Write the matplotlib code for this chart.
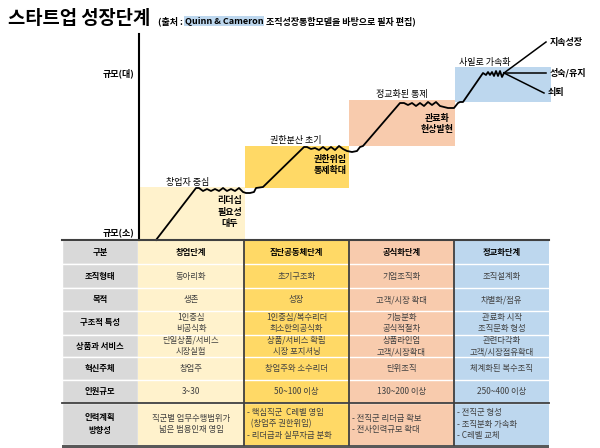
import matplotlib.pyplot as plt
import matplotlib.patches as mpatches

plt.rcParams['font.family'] = ['Noto Sans CJK KR', 'DejaVu Sans']

# ── data ────────────────────────────────────────────────────────────────
stage_colors = ["#FFF2CC", "#FFD966", "#F8CBAD", "#BDD7EE"]
# stage boxes in pixel space: (x0, x1, y_top, y_bottom)
stage_boxes = [(139, 245, 187, 240), (245, 349, 146, 188),
               (349, 455, 100, 146), (455, 551, 67, 102)]

# growth curve path (x, y) in pixels
curve_x = [156, 196, 199, 203, 207, 211, 215, 219, 223, 227, 231, 235, 239, 243, 246, 250, 254, 256, 263,
           304, 307, 311, 315, 319, 323, 327, 331, 335, 339, 343, 347, 352, 357, 360, 363,
           400, 404, 408, 412, 416, 420, 424, 428, 432, 436, 440, 444, 448, 454, 458, 460, 463,
           483, 486, 488, 490, 492, 494, 496, 498, 500, 502, 504]
curve_y = [240, 188, 188, 191, 189, 191, 189, 191, 188, 191, 189, 191, 188, 192, 193, 193, 192, 188, 187,
           147, 147, 149, 148, 150, 147, 150, 147, 150, 146, 149, 151, 152, 151, 147, 146,
           103, 103, 105, 103, 106, 103, 106, 102, 105, 102, 106, 107, 108, 108, 103, 102, 102,
           73, 75, 72, 75, 72, 76, 71, 76, 71, 77, 73]
branch_ends = [(546, 42), (546, 73), (544, 93)]
branch_labels = ["지속성장", "성숙/유지", "쇠퇴"]

stage_labels = [(188, 182, "창업자 중심"), (296, 140, "권한분산 초기"),
                (402, 95, "정교화된 통제"), (485, 62, "사일로 가속화")]
crisis_labels = [(230, 212, "리더십\n필요성\n대두"), (330, 165, "권한위임\n통제확대"),
                 (437, 124, "관료화\n현상발현")]

col_x = [62, 138, 244, 349, 454, 549]
row_y = [240, 264, 288, 311, 335, 357, 380, 403, 445]
row_heads = ["구분", "조직형태", "목적", "구조적 특성", "상품과 서비스", "혁신주체", "인원규모", "인력계획\n방향성"]
table = [
    ["창업단계", "집단공동체단계", "공식화단계", "정교화단계"],
    ["동아리화", "초기구조화", "기업조직화", "조직설계화"],
    ["생존", "성장", "고객/시장 확대", "차별화/점유"],
    ["1인중심\n비공식화", "1인중심/복수리더\n최소한의공식화", "기능분화\n공식적절차", "관료화 시작\n조직문화 형성"],
    ["단일상품/서비스\n시장실험", "상품/서비스 확립\n시장 포지셔닝", "상품라인업\n고객/시장확대", "관련다각화\n고객/시장점유확대"],
    ["창업주", "창업주와 소수리더", "단위조직", "체계화된 복수조직"],
    ["3~30", "50~100 이상", "130~200 이상", "250~400 이상"],
    ["직군별 업무수행범위가\n넓은 범용인재 영입",
     "- 핵심직군  C레벨 영입\n  (창업주 권한위임)\n- 리더급과 실무자급 분화",
     "- 전직군 리더급 확보\n- 전사인력규모 확대",
     "- 전직군 형성\n- 조직분화 가속화\n- C레벨 교체"],
]

# ── figure ──────────────────────────────────────────────────────────────
fig = plt.figure(figsize=(6, 4.48), dpi=100)
ax = fig.add_axes([0, 0, 1, 1])
ax.set_xlim(0, 600)
ax.set_ylim(448, 0)
ax.axis("off")

ax.text(8, 19, "스타트업 성장단계", fontsize=13.5, fontweight="heavy", va="center", ha="left")

# subtitle pieces laid out one after another
renderer = fig.canvas.get_renderer()
x = 158
pieces = [("(출처 : ", None), ("Quinn & Cameron", "#BDD7EE"), (" 조직성장통합모델을 바탕으로 필자 편집)", None)]
for s, bg in pieces:
    kw = dict(bbox=dict(boxstyle="square,pad=0.1", fc=bg, ec="none")) if bg else {}
    t = ax.text(x, 21, s, fontsize=6.5, fontweight="bold", va="center", ha="left", **kw)
    bb = t.get_window_extent(renderer)
    x += bb.width * 600 / fig.bbox.width

for (x0, x1, yt, yb), c in zip(stage_boxes, stage_colors):
    ax.add_patch(mpatches.Rectangle((x0, yt), x1 - x0, yb - yt, fc=c, ec="none"))

ax.plot([139, 139], [34, 240], color="black", lw=1.5)
ax.text(134, 73, "규모(대)", fontsize=6.5, fontweight="bold", ha="right", va="center")
ax.text(134, 234, "규모(소)", fontsize=6.5, fontweight="bold", ha="right", va="center")

ax.plot(curve_x, curve_y, color="black", lw=1.3, solid_joinstyle="round")
for (ex, ey), lab in zip(branch_ends, branch_labels):
    ax.plot([curve_x[-1], ex], [curve_y[-1], ey], color="black", lw=1.1)
    ax.text(ex + 4, ey, lab, fontsize=6.5, fontweight="bold", ha="left", va="center")

for x, y, s in stage_labels:
    ax.text(x, y, s, fontsize=6.5, ha="center", va="center")
for x, y, s in crisis_labels:
    ax.text(x, y, s, fontsize=6.5, fontweight="bold", ha="center", va="center", linespacing=1.3)

# table
for i in range(len(row_heads)):
    y0, y1 = row_y[i], row_y[i + 1]
    ax.add_patch(mpatches.Rectangle((col_x[0], y0), col_x[1] - col_x[0], y1 - y0,
                                    fc="#D9D9D9", ec="white", lw=1))
    ax.text((col_x[0] + col_x[1]) / 2, (y0 + y1) / 2, row_heads[i], fontsize=6,
            fontweight="bold", ha="center", va="center", linespacing=1.5)
    for j in range(4):
        xa, xb = col_x[j + 1], col_x[j + 2]
        ax.add_patch(mpatches.Rectangle((xa, y0), xb - xa, y1 - y0,
                                        fc=stage_colors[j], ec="none"))
        txt = table[i][j]
        bold = i == 0
        color = "black" if bold else "#404040"
        if i == 7 and j > 0:
            ax.text(xa + 3, (y0 + y1) / 2, txt, fontsize=6, ha="left", va="center",
                    color=color, linespacing=1.4)
        else:
            ax.text((xa + xb) / 2, (y0 + y1) / 2, txt, fontsize=6,
                    fontweight="bold" if bold else "normal", ha="center", va="center",
                    color=color, linespacing=1.3)
    if i > 0:
        ax.plot([col_x[1], col_x[-1]], [y0, y0], color="white", lw=1)

for x in col_x[2:-1]:
    ax.plot([x, x], [row_y[0], row_y[-1]], color="#404040", lw=1.3)
ax.plot([col_x[0], col_x[-1]], [row_y[0], row_y[0]], color="#404040", lw=1.5)
ax.plot([col_x[0], col_x[-1]], [row_y[7], row_y[7]], color="#404040", lw=1.3)
ax.add_patch(mpatches.Rectangle((col_x[0], row_y[-1]), col_x[-1] - col_x[0], 3,
                                fc="#595959", ec="none"))

fig.savefig("out.png", dpi=100)
